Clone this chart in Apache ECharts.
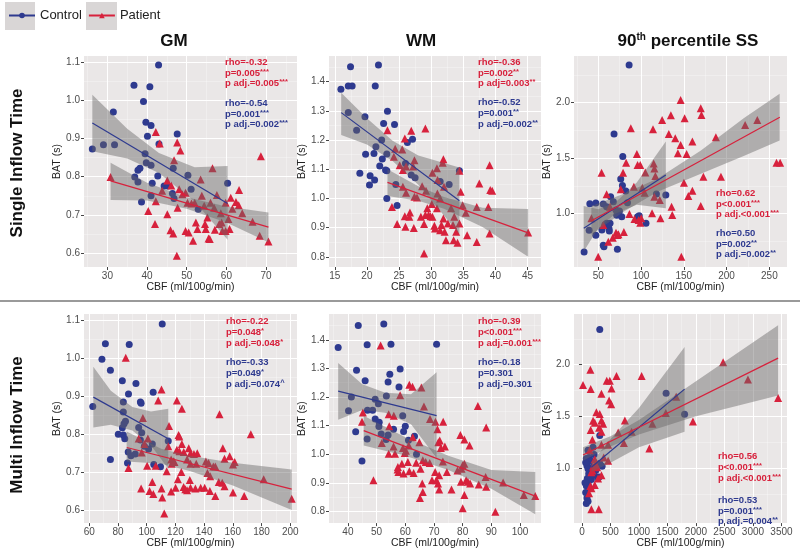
<!DOCTYPE html>
<html>
<head>
<meta charset="utf-8">
<script src="https://cdn.jsdelivr.net/npm/echarts@6/dist/echarts.min.js"></script>
<style>html,body{margin:0;background:#fff}#main{width:800px;height:550px}</style>
</head>
<body>
<div id="main"></div>
<script>
var BLUE = '#2E3A8F', RED = '#D7213C';
var FONT = '"Liberation Sans", Arial, sans-serif';

// ---- GM, single inflow time ----
var gmSingleCtrl = [[26.2,0.873],[29.0,0.884],[31.5,0.970],[31.8,0.884],[36.7,1.040],[40.7,1.036],[42.9,1.093],[39.1,0.997],[39.7,0.943],[41.0,0.934],[40.1,0.906],[43.0,0.886],[47.6,0.912],[39.5,0.860],[39.8,0.837],[41.0,0.830],[37.7,0.817],[38.2,0.822],[36.9,0.799],[37.7,0.786],[42.7,0.802],[41.3,0.783],[46.6,0.822],[50.3,0.804],[44.3,0.776],[45.2,0.776],[46.4,0.756],[41.0,0.750],[38.6,0.734],[46.8,0.743],[51.1,0.767],[52.9,0.715],[60.3,0.783]];
var gmSinglePat = [[30.8,0.799],[42.2,0.917],[43.2,0.887],[47.6,0.890],[48.4,0.869],[46.8,0.843],[45.1,0.790],[46.1,0.777],[43.8,0.763],[42.2,0.736],[40.3,0.710],[42.0,0.676],[45.1,0.702],[45.9,0.660],[46.6,0.651],[47.7,0.719],[47.5,0.593],[48.1,0.767],[48.9,0.754],[49.7,0.758],[50.2,0.732],[51.2,0.730],[52.0,0.732],[49.7,0.658],[50.5,0.654],[51.6,0.632],[52.3,0.680],[52.7,0.663],[53.5,0.793],[53.8,0.750],[54.4,0.724],[55.2,0.693],[54.6,0.676],[54.8,0.663],[55.5,0.638],[55.8,0.637],[56.5,0.822],[56.0,0.732],[56.9,0.719],[57.1,0.661],[57.6,0.752],[58.2,0.676],[58.8,0.680],[59.0,0.658],[59.8,0.658],[58.6,0.704],[59.8,0.732],[60.5,0.689],[60.8,0.663],[61.1,0.745],[61.5,0.716],[62.4,0.734],[63.1,0.725],[63.2,0.765],[64.0,0.704],[66.6,0.682],[68.7,0.854],[68.4,0.645],[70.6,0.630]];
var gmSingleCtrlFit = [[26.2,0.941],[60.3,0.730]];
var gmSinglePatFit = [[30.8,0.789],[70.6,0.668]];
var gmSingleCtrlBand = [[26.2,0.867,1.015],[35,0.848,0.926],[43,0.810,0.862],[52,0.735,0.825],[60.3,0.635,0.828]];
var gmSinglePatBand = [[30.8,0.739,0.837],[40,0.738,0.784],[50,0.716,0.746],[60,0.680,0.722],[70.6,0.628,0.706]];

// ---- WM, single inflow time ----
var wmSingleCtrl = [[15.95,1.374],[17.1,1.385],[17.7,1.385],[17.45,1.451],[21.8,1.457],[21.3,1.385],[17.1,1.294],[18.4,1.234],[19.7,1.280],[23.2,1.299],[22.6,1.257],[24.3,1.253],[19.8,1.151],[21.1,1.154],[21.4,1.177],[22.3,1.200],[22.4,1.135],[22.0,1.111],[22.9,1.097],[23.1,1.095],[23.1,1.152],[18.9,1.086],[20.4,1.046],[20.5,1.078],[21.2,1.063],[23.1,1.000],[26.3,1.192],[26.0,1.120],[27.1,1.203],[26.9,1.080],[27.5,1.071],[24.5,1.048],[24.7,0.976],[31.4,1.058],[32.8,1.048],[34.4,1.095]];
var wmSinglePat = [[23.2,1.234],[26.9,1.232],[29.1,1.240],[24.4,1.170],[25.9,1.205],[25.5,1.168],[24.2,1.143],[25.1,1.114],[26.1,1.109],[27.4,1.131],[27.2,1.109],[25.6,1.097],[30.2,1.088],[30.9,1.103],[31.9,1.134],[31.8,1.122],[25.6,1.040],[26.1,1.019],[27.4,1.006],[27.8,1.003],[28.6,1.042],[29.2,1.026],[31.0,1.063],[30.97,1.017],[31.4,1.000],[32.0,1.040],[34.4,1.095],[34.6,1.023],[39.1,1.114],[37.5,1.051],[39.2,1.029],[39.5,1.026],[23.9,0.971],[24.7,0.912],[25.9,0.939],[26.0,0.903],[26.7,0.952],[26.6,0.937],[27.3,0.899],[28.4,0.937],[28.9,0.912],[29.1,0.943],[29.4,0.966],[29.6,0.943],[29.9,0.939],[30.1,0.981],[30.2,0.937],[30.5,0.906],[30.6,0.897],[30.9,0.966],[31.4,0.891],[31.6,0.909],[31.9,0.931],[32.1,0.886],[32.3,0.857],[32.6,0.914],[33.1,0.966],[33.4,0.909],[33.6,0.937],[33.9,0.886],[33.5,0.857],[34.1,0.848],[34.4,0.914],[28.9,0.811],[35.6,0.874],[35.4,0.951],[37.1,0.971],[37.1,0.851],[38.9,0.971],[39.1,0.880],[45.1,0.883],[34.9,0.977]];
var wmSingleCtrlFit = [[16.0,1.294],[34.4,0.992]];
var wmSinglePatFit = [[23.2,1.055],[45.1,0.882]];
var wmSingleCtrlBand = [[16,1.217,1.362],[20,1.185,1.275],[24,1.128,1.198],[28,1.047,1.147],[34.4,0.878,1.106]];
var wmSinglePatBand = [[23.2,1.008,1.100],[28,0.992,1.042],[32,0.965,1.005],[38,0.902,0.968],[45.1,0.800,0.964]];

// ---- 90th percentile SS, single inflow time ----
var ssSingleCtrl = [[33.5,0.655],[39.4,0.850],[40.2,1.090],[47.2,1.096],[47.2,0.805],[86.1,2.339],[68.5,1.718],[78.7,1.514],[76.3,1.312],[78.3,1.255],[82.2,1.204],[54.3,0.853],[55.9,0.715],[56.7,0.703],[57.9,0.901],[59.8,0.913],[61.8,0.889],[62.6,0.865],[63.0,0.844],[63.8,0.913],[64.5,1.153],[67.7,1.108],[70.8,1.033],[72.4,0.679],[74.8,1.024],[77.5,0.973],[84.2,1.099],[96.0,0.973],[97.9,0.982],[105.8,0.913],[118.0,1.177],[129.0,1.168],[55.9,1.087],[59.8,1.063],[71.6,0.985]];
var ssSinglePat = [[42.1,0.958],[50.0,0.613],[53.9,1.369],[55.9,0.898],[59.8,1.174],[61.8,0.748],[63.8,1.063],[67.0,0.784],[70.8,0.829],[72.4,0.808],[73.6,0.814],[76.3,1.219],[79.0,1.369],[80.0,0.835],[82.6,1.459],[86.5,0.997],[88.1,1.769],[92.4,0.952],[91.7,1.243],[95.2,1.538],[96.0,1.438],[99.1,1.438],[97.2,0.943],[99.1,0.919],[100.3,0.958],[101.5,1.234],[105.0,1.372],[104.2,1.189],[112.9,1.003],[114.0,1.760],[115.6,1.153],[114.8,1.453],[115.6,1.408],[116.8,1.339],[121.9,1.123],[122.7,0.958],[124.7,1.844],[132.5,1.718],[134.9,1.886],[135.7,1.063],[136.5,0.988],[140.0,1.679],[143.1,1.544],[146.3,2.024],[147.1,0.613],[146.3,1.619],[151.0,1.859],[150.2,1.279],[153.3,1.538],[155.3,1.159],[160.0,1.207],[160.0,1.649],[169.8,1.949],[170.6,1.889],[169.8,1.069],[172.9,1.333],[187.5,1.688],[193.4,1.333],[221.7,1.799],[235.9,1.844],[258.3,1.459],[262.6,1.459]];
var ssSingleCtrlFit = [[33.1,0.868],[129.0,1.348]];
var ssSinglePatFit = [[42.1,0.937],[262.2,1.868]];
var ssSingleCtrlBand = [[33,0.66,1.07],[50,0.87,1.04],[70,1.00,1.10],[95,1.08,1.28],[129,1.05,1.65]];
var ssSinglePatBand = [[42,0.81,1.07],[80,1.02,1.18],[120,1.20,1.32],[170,1.36,1.57],[220,1.52,1.86],[262,1.66,2.08]];

// ---- GM, multi inflow time ----
var gmMultiCtrl = [[62.4,0.873],[68.8,0.998],[71.2,1.039],[74.7,0.969],[74.7,0.733],[87.8,1.037],[110.8,1.091],[83.0,0.941],[87.3,0.906],[92.5,0.934],[104.5,0.911],[83.7,0.885],[95.6,0.885],[96.1,0.882],[83.7,0.859],[84.2,0.828],[83.0,0.817],[85.2,0.834],[80.2,0.800],[83.7,0.798],[84.7,0.788],[87.1,0.753],[89.0,0.743],[86.6,0.724],[92.0,0.748],[94.4,0.818],[96.5,0.804],[95.6,0.785],[98.4,0.768],[101.3,0.761],[103.9,0.774],[104.9,0.720],[109.6,0.714],[115.0,0.782]];
var gmMultiPat = [[85.4,1.002],[110.3,0.918],[108.0,0.889],[121.0,0.889],[124.5,0.867],[97.3,0.843],[115.5,0.822],[150.7,0.853],[172.5,0.800],[94.4,0.789],[100.8,0.789],[98.4,0.774],[96.5,0.752],[87.3,0.711],[115.0,0.768],[122.2,0.798],[122.7,0.794],[124.5,0.774],[121.0,0.759],[122.7,0.755],[125.8,0.753],[117.0,0.733],[118.6,0.729],[117.4,0.722],[119.3,0.727],[129.3,0.763],[130.5,0.750],[132.9,0.748],[135.2,0.750],[128.1,0.733],[130.5,0.722],[134.5,0.722],[141.2,0.728],[143.1,0.724],[146.4,0.715],[147.8,0.715],[153.0,0.763],[154.2,0.735],[157.8,0.742],[161.3,0.727],[160.1,0.720],[142.3,0.698],[144.2,0.689],[124.1,0.700],[121.7,0.681],[113.9,0.702],[100.3,0.717],[106.3,0.717],[96.1,0.657],[102.0,0.650],[104.6,0.642],[103.9,0.674],[110.3,0.657],[110.8,0.633],[112.2,0.591],[117.0,0.649],[120.1,0.659],[125.7,0.661],[126.9,0.655],[128.1,0.652],[130.0,0.679],[130.5,0.659],[133.9,0.657],[137.6,0.659],[140.4,0.659],[144.0,0.650],[147.8,0.637],[150.2,0.674],[152.6,0.672],[154.2,0.663],[160.1,0.646],[167.9,0.637],[181.5,0.681],[201.0,0.630]];
var gmMultiCtrlFit = [[62.8,0.898],[115.0,0.788]];
var gmMultiPatFit = [[86.1,0.765],[201.0,0.655]];
var gmMultiCtrlBand = [[62.8,0.818,0.978],[75,0.825,0.915],[90,0.810,0.872],[103,0.770,0.860],[115,0.709,0.867]];
var gmMultiPatBand = [[86,0.728,0.807],[110,0.722,0.762],[130,0.703,0.743],[160,0.665,0.725],[201,0.600,0.707]];

// ---- WM, multi inflow time ----
var wmMultiCtrl = [[36.6,1.373],[43.6,1.450],[46.7,1.383],[52.5,1.455],[55.0,1.384],[70.9,1.384],[43.0,1.294],[46.0,1.257],[54.6,1.280],[58.2,1.298],[54.0,1.253],[57.8,1.235],[41.2,1.200],[53.4,1.204],[49.5,1.192],[50.6,1.177],[46.8,1.154],[48.6,1.154],[40.2,1.152],[59.1,1.135],[49.5,1.123],[50.9,1.112],[50.8,1.097],[55.9,1.088],[60.0,1.098],[59.4,1.080],[42.7,1.079],[51.6,1.071],[54.0,1.068],[53.3,1.052],[46.7,1.054],[61.1,1.049],[63.2,1.063],[63.9,1.000],[44.9,0.977]];
var wmMultiPat = [[51.4,1.380],[61.4,1.243],[62.5,1.236],[65.6,1.233],[58.2,1.206],[66.5,1.167],[85.3,1.169],[45.2,1.146],[54.2,1.140],[56.0,1.135],[54.4,1.098],[68.6,1.123],[70.5,1.114],[73.2,1.114],[71.2,1.088],[88.2,1.094],[79.2,1.068],[80.6,1.052],[82.4,1.031],[71.5,1.042],[72.0,1.048],[72.4,1.022],[73.8,1.027],[51.8,1.040],[55.9,1.027],[59.2,1.022],[60.2,1.013],[61.2,1.031],[62.6,1.060],[59.8,1.005],[54.2,1.002],[56.4,1.002],[66.1,0.979],[67.1,0.973],[68.5,0.970],[73.1,0.975],[63.8,0.971],[58.8,0.967],[60.9,0.973],[57.4,0.956],[57.6,0.938],[57.3,0.947],[59.4,0.933],[61.4,0.941],[62.9,0.935],[65.3,0.950],[64.9,1.042],[70.4,0.938],[71.8,0.927],[74.5,0.938],[69.3,0.910],[70.8,0.910],[71.4,0.898],[71.8,0.877],[65.9,0.898],[66.1,0.869],[65.1,0.848],[78.2,0.944],[79.6,0.950],[80.0,0.962],[80.6,0.967],[79.4,0.904],[81.2,0.910],[81.8,0.904],[82.6,0.898],[80.6,0.858],[80.0,0.812],[76.1,0.877],[85.6,0.895],[88.0,0.921],[88.2,0.887],[91.4,0.800],[94.1,0.902],[101.3,0.858],[105.3,0.855],[48.9,0.910],[44.9,1.114]];
var wmMultiCtrlFit = [[36.6,1.221],[70.9,1.135]];
var wmMultiPatFit = [[45.5,1.083],[105.3,0.854]];
var wmMultiCtrlBand = [[36.6,1.121,1.319],[45,1.155,1.245],[53,1.145,1.215],[62,1.105,1.210],[70.9,0.987,1.287]];
var wmMultiPatBand = [[45.5,1.031,1.135],[60,0.995,1.060],[75,0.945,0.995],[90,0.880,0.945],[105.3,0.791,0.938]];

// ---- 90th percentile SS, multi inflow time ----
var ssMultiCtrl = [[312,2.341],[1476,1.722],[1800,1.519],[312,1.313],[194,1.200],[106,1.172],[124,1.100],[312,1.044],[353,1.016],[76,1.091],[88,1.022],[106,0.991],[118,0.944],[135,0.919],[94,0.897],[106,0.850],[76,0.828],[124,0.813],[165,0.888],[206,0.928],[241,0.975],[282,0.906],[300,0.913],[88,0.709],[106,0.678],[76,0.656],[65,0.763],[53,0.856],[147,1.069],[182,1.006],[212,1.131],[65,1.053]];
var ssMultiPat = [[18,1.803],[147,1.950],[153,1.763],[194,1.456],[224,1.438],[153,1.366],[182,1.272],[135,1.172],[253,1.538],[312,1.522],[341,1.719],[435,1.844],[488,1.844],[518,1.769],[476,1.653],[512,1.616],[606,1.891],[341,1.459],[371,1.428],[300,1.388],[341,1.350],[341,1.225],[459,1.225],[341,0.928],[282,0.897],[241,1.038],[265,1.006],[194,1.013],[165,0.959],[147,0.825],[124,0.756],[165,0.803],[224,0.834],[165,0.600],[294,0.600],[635,1.344],[753,1.459],[735,1.241],[1047,1.891],[871,1.350],[1182,1.188],[1235,1.428],[1471,1.531],[1653,1.688],[1947,1.450],[2476,2.022],[2912,1.856],[3441,1.678],[459,1.069],[382,1.100],[182,0.975],[224,1.084]];
var ssMultiCtrlFit = [[165,1.006],[1800,1.763]];
var ssMultiPatFit = [[18,1.125],[3441,2.063]];
var ssMultiCtrlBand = [[165,0.96,1.05],[500,1.05,1.28],[1000,1.20,1.58],[1800,1.35,2.17]];
var ssMultiPatBand = [[18,1.069,1.200],[500,1.207,1.307],[1000,1.324,1.464],[2000,1.50,1.84],[3441,1.70,2.38]];

// ---- tick labels ----
var gmSingleXTicks = [30,40,50,60,70], gmSingleXMinor = [25,35,45,55,65,75];
var wmSingleXTicks = [15,20,25,30,35,40,45], wmSingleXMinor = [17.5,22.5,27.5,32.5,37.5,42.5];
var ssSingleXTicks = [50,100,150,200,250], ssSingleXMinor = [25,75,125,175,225];
var gmMultiXTicks = [60,80,100,120,140,160,180,200], gmMultiXMinor = [70,90,110,130,150,170,190];
var wmMultiXTicks = [40,50,60,70,80,90,100], wmMultiXMinor = [35,45,55,65,75,85,95,105];
var ssMultiXTicks = [0,500,1000,1500,2000,2500,3000,3500], ssMultiXMinor = [250,750,1250,1750,2250,2750,3250];
var gmYTicks = [0.6,0.7,0.8,0.9,1.0,1.1], gmYMinor = [0.65,0.75,0.85,0.95,1.05];
var wmYTicks = [0.8,0.9,1.0,1.1,1.2,1.3,1.4], wmYMinor = [0.85,0.95,1.05,1.15,1.25,1.35,1.45];
var ssYTicks = [1.0,1.5,2.0], ssYMinor = [0.75,1.25,1.75,2.25];

// ---- correlation notes ----
var gmSingleNotes = [['rho=-0.32','p=0.005***','p adj.=0.005***'],['rho=-0.54','p=0.001***','p adj.=0.002***']];
var wmSingleNotes = [['rho=-0.36','p=0.002**','p adj=0.003**'],['rho=-0.52','p=0.001**','p adj.=0.002**']];
var ssSingleNotes = [['rho=0.62','p<0.001***','p adj.<0.001***'],['rho=0.50','p=0.002**','p adj.=0.002**']];
var gmMultiNotes = [['rho=-0.22','p=0.048*','p adj.=0.048*'],['rho=-0.33','p=0.049*','p adj.=0.074^']];
var wmMultiNotes = [['rho=-0.39','p<0.001***','p adj.=0.001***'],['rho=-0.18','p=0.301','p adj.=0.301']];
var ssMultiNotes = [['rho=0.56','p<0.001***','p adj.<0.001***'],['rho=0.53','p=0.001***','p adj.=0.004**']];

var panels = [
  {grid:[84,56,213,211], x:[24.1,77.8], y:[0.5634,1.1165], xt:gmSingleXTicks, xm:gmSingleXMinor, yt:gmYTicks, ym:gmYMinor,
   ctrl:gmSingleCtrl, pat:gmSinglePat, cFit:gmSingleCtrlFit, pFit:gmSinglePatFit, cBand:gmSingleCtrlBand, pBand:gmSinglePatBand,
   notes:gmSingleNotes, notePos:[225,57,98]},
  {grid:[329,56,212,211], x:[14.1,47.1], y:[0.765,1.488], xt:wmSingleXTicks, xm:wmSingleXMinor, yt:wmYTicks, ym:wmYMinor,
   ctrl:wmSingleCtrl, pat:wmSinglePat, cFit:wmSingleCtrlFit, pFit:wmSinglePatFit, cBand:wmSingleCtrlBand, pBand:wmSinglePatBand,
   notes:wmSingleNotes, notePos:[478,57,97.5]},
  {grid:[574,56,213,211], x:[21.7,270.6], y:[0.52,2.42], xt:ssSingleXTicks, xm:ssSingleXMinor, yt:ssYTicks, ym:ssYMinor,
   ctrl:ssSingleCtrl, pat:ssSinglePat, cFit:ssSingleCtrlFit, pFit:ssSinglePatFit, cBand:ssSingleCtrlBand, pBand:ssSinglePatBand,
   notes:ssSingleNotes, notePos:[716,188,228]},
  {grid:[84,314,213,211], x:[56.3,204.7], y:[0.5654,1.1175], xt:gmMultiXTicks, xm:gmMultiXMinor, yt:gmYTicks, ym:gmYMinor,
   ctrl:gmMultiCtrl, pat:gmMultiPat, cFit:gmMultiCtrlFit, pFit:gmMultiPatFit, cBand:gmMultiCtrlBand, pBand:gmMultiPatBand,
   notes:gmMultiNotes, notePos:[226,316.5,357.5]},
  {grid:[329,314,212,211], x:[33.4,107.3], y:[0.76,1.49], xt:wmMultiXTicks, xm:wmMultiXMinor, yt:wmYTicks, ym:wmYMinor,
   ctrl:wmMultiCtrl, pat:wmMultiPat, cFit:wmMultiCtrlFit, pFit:wmMultiPatFit, cBand:wmMultiCtrlBand, pBand:wmMultiPatBand,
   notes:wmMultiNotes, notePos:[478,316.5,357.5]},
  {grid:[574,314,213,211], x:[-140,3597], y:[0.466,2.49], xt:ssMultiXTicks, xm:ssMultiXMinor, yt:ssYTicks, ym:ssYMinor,
   ctrl:ssMultiCtrl, pat:ssMultiPat, cFit:ssMultiCtrlFit, pFit:ssMultiPatFit, cBand:ssMultiCtrlBand, pBand:ssMultiPatBand,
   notes:ssMultiNotes, notePos:[718,451.5,495]}
];

var grids = [], xAxes = [], yAxes = [], lineSeries = [], otherSeries = [], graphics = [];

function bandRender(band, fill) {
  return function (params, api) {
    if (params.dataIndex !== 0) return null;
    var top = band.map(function (b) { return api.coord([b[0], b[2]]); });
    var bottom = band.slice().reverse().map(function (b) { return api.coord([b[0], b[1]]); });
    return {type: 'polygon', shape: {points: top.concat(bottom)}, style: {fill: fill}};
  };
}

function noteText(x, y, lines, color) {
  var txt = lines.map(function (s) { return s.replace(/([*^]+)$/, '{s|$1}'); }).join('\n');
  return {type: 'text', x: x, y: y, z: 50, style: {
    text: txt, fill: color, fontSize: 9.5, fontWeight: 'bold', fontFamily: FONT, lineHeight: 10.6,
    rich: {s: {fontSize: 7.5, fontWeight: 'bold', fontFamily: FONT, verticalAlign: 'top', lineHeight: 10.6}}
  }};
}

panels.forEach(function (p, i) {
  grids.push({left: p.grid[0], top: p.grid[1], width: p.grid[2], height: p.grid[3],
    show: true, backgroundColor: '#EAE7E7', borderWidth: 0});
  var lab = {fontSize: 10, color: '#4D4D4D', fontFamily: FONT};
  xAxes.push({gridIndex: i, type: 'value', min: p.x[0], max: p.x[1],
    name: 'CBF (ml/100g/min)', nameLocation: 'middle', nameGap: 14,
    nameTextStyle: {fontSize: 10.5, color: '#222', fontFamily: FONT},
    axisLine: {show: false},
    axisTick: {show: true, length: 3, lineStyle: {color: '#444'}, customValues: p.xt},
    axisLabel: Object.assign({customValues: p.xt, margin: 4, formatter: function (v) { return String(v); }}, lab),
    splitLine: {show: true, lineStyle: {color: '#fff', width: 1}}});
  xAxes.push({gridIndex: i, type: 'value', min: p.x[0], max: p.x[1], position: 'bottom',
    axisLine: {show: false}, axisTick: {show: false, customValues: p.xm}, axisLabel: {show: false, customValues: p.xm},
    splitLine: {show: true, lineStyle: {color: 'rgba(255,255,255,0.6)', width: 0.5}}});
  yAxes.push({gridIndex: i, type: 'value', min: p.y[0], max: p.y[1],
    name: 'BAT (s)', nameLocation: 'middle', nameGap: 18,
    nameTextStyle: {fontSize: 10.5, color: '#222', fontFamily: FONT},
    axisLine: {show: false},
    axisTick: {show: true, length: 3, lineStyle: {color: '#444'}, customValues: p.yt},
    axisLabel: Object.assign({customValues: p.yt, margin: 4, formatter: function (v) { return v.toFixed(1); }}, lab),
    splitLine: {show: true, lineStyle: {color: '#fff', width: 1}}});
  yAxes.push({gridIndex: i, type: 'value', min: p.y[0], max: p.y[1], position: 'left',
    axisLine: {show: false}, axisTick: {show: false, customValues: p.ym}, axisLabel: {show: false, customValues: p.ym},
    splitLine: {show: true, lineStyle: {color: 'rgba(255,255,255,0.6)', width: 0.5}}});

  var xi = 2 * i, yi = 2 * i;
  otherSeries.push({name: 'Control', type: 'scatter', xAxisIndex: xi, yAxisIndex: yi, data: p.ctrl,
    symbol: 'circle', symbolSize: 7, itemStyle: {color: BLUE, opacity: 1}, z: 2, silent: true});
  otherSeries.push({name: 'Patient', type: 'scatter', xAxisIndex: xi, yAxisIndex: yi, data: p.pat,
    symbol: 'triangle', symbolSize: 8, itemStyle: {color: RED, opacity: 1}, z: 3, silent: true});
  otherSeries.push({name: 'Control band', type: 'custom', xAxisIndex: xi, yAxisIndex: yi, data: p.cBand,
    encode: {x: 0, y: [1, 2]}, renderItem: bandRender(p.cBand, 'rgba(105,103,103,0.45)'), z: 4, silent: true});
  otherSeries.push({name: 'Patient band', type: 'custom', xAxisIndex: xi, yAxisIndex: yi, data: p.pBand,
    encode: {x: 0, y: [1, 2]}, renderItem: bandRender(p.pBand, 'rgba(105,103,103,0.45)'), z: 4, silent: true});
  lineSeries.push({name: 'Control', type: 'line', xAxisIndex: xi, yAxisIndex: yi, data: p.cFit,
    symbol: 'circle', showSymbol: false, lineStyle: {color: BLUE, width: 1.2}, itemStyle: {color: BLUE}, z: 5, silent: true});
  lineSeries.push({name: 'Patient', type: 'line', xAxisIndex: xi, yAxisIndex: yi, data: p.pFit,
    symbol: 'triangle', showSymbol: false, lineStyle: {color: RED, width: 1.2}, itemStyle: {color: RED}, z: 5, silent: true});

  graphics.push(noteText(p.notePos[0], p.notePos[1], p.notes[0], RED));
  graphics.push(noteText(p.notePos[0], p.notePos[2], p.notes[1], BLUE));
});

// legend key backgrounds, separator, titles, row labels
graphics.push({type: 'rect', shape: {x: 5, y: 2, width: 30, height: 28}, style: {fill: '#D9D6D6'}, z: -1});
graphics.push({type: 'rect', shape: {x: 86, y: 2, width: 31, height: 28}, style: {fill: '#D9D6D6'}, z: -1});
graphics.push({type: 'line', shape: {x1: 0, y1: 301, x2: 800, y2: 301}, style: {stroke: '#9A9A9A', lineWidth: 2}});
var titleStyle = {fontSize: 17, fontWeight: 'bold', fontFamily: FONT, fill: '#111', align: 'center', verticalAlign: 'middle'};
graphics.push({type: 'text', x: 174, y: 41, style: Object.assign({text: 'GM'}, titleStyle)});
graphics.push({type: 'text', x: 421, y: 41, style: Object.assign({text: 'WM'}, titleStyle)});
graphics.push({type: 'text', x: 688, y: 41, style: Object.assign({text: '90{sup|th} percentile SS',
  rich: {sup: {fontSize: 10, fontWeight: 'bold', fontFamily: FONT, verticalAlign: 'top'}}}, titleStyle)});
graphics.push({type: 'text', x: 17, y: 163, rotation: Math.PI / 2, style: Object.assign({text: 'Single Inflow Time'}, titleStyle)});
graphics.push({type: 'text', x: 17, y: 425, rotation: Math.PI / 2, style: Object.assign({text: 'Multi Inflow Time'}, titleStyle)});

var chart = echarts.init(document.getElementById('main'));
chart.setOption({
  animation: false,
  textStyle: {fontFamily: FONT},
  legend: {data: ['Control', 'Patient'], left: 8, top: 9, padding: 0, itemWidth: 26, itemHeight: 7, itemGap: 6,
    textStyle: {fontSize: 13, color: '#222', fontFamily: FONT}, selectedMode: false},
  grid: grids,
  xAxis: xAxes,
  yAxis: yAxes,
  series: lineSeries.concat(otherSeries),
  graphic: graphics
});
</script>
</body>
</html>
